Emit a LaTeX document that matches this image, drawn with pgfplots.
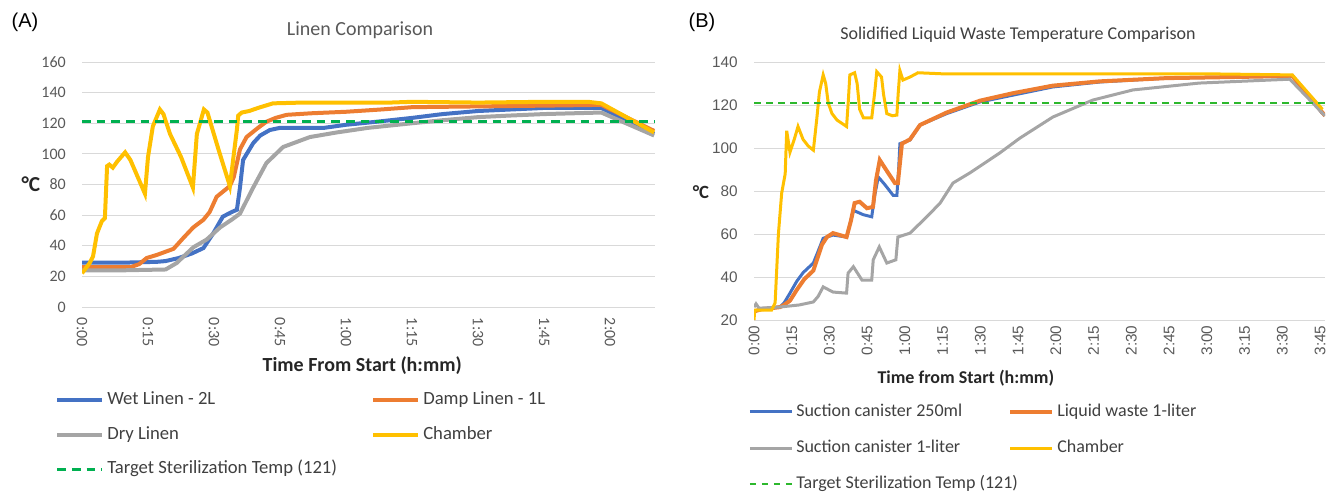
\documentclass[border=0pt]{standalone}
\usepackage{fontspec}
\setmainfont{Carlito}
\newfontfamily\arialf{Liberation Sans}
\usepackage{pgfplots}
\pgfplotsset{compat=1.18}

\definecolor{exblue}{HTML}{4472C4}
\definecolor{exorange}{HTML}{ED7D31}
\definecolor{exgray}{HTML}{A5A5A5}
\definecolor{exyellow}{HTML}{FFC000}
\definecolor{exgreen}{HTML}{00B050}
\definecolor{exgreenB}{HTML}{2DB82D}
\definecolor{gridgray}{HTML}{D9D9D9}
\definecolor{tickgray}{HTML}{595959}
\definecolor{leggray}{HTML}{404040}

\pgfplotsset{
  excel/.style={
    scale only axis,
    axis line style={draw=none},
    tick style={draw=none},
    ymajorgrids,
    major grid style={draw=gridgray, line width=0.75pt},
    xmin=0,
    /pgf/number format/assume math mode=true,
    yticklabel style={inner sep=0pt, text=tickgray},
    xticklabel style={inner sep=0pt, text=tickgray},
    yticklabel shift=12pt,
    legend columns=2,
    legend cell align=left,
    legend image code/.code={\draw[##1] (0pt,0pt) -- (31.5pt,0pt);},
  },
}

\begin{document}
\begin{tikzpicture}[x=0.75pt,y=-0.75pt]
\path[use as bounding box] (0,0) rectangle (1336,492);

% headings
\node[font=\arialf\fontsize{15}{18}\selectfont, anchor=west] at (7,22) {(A)};
\node[font=\fontsize{15}{18}\selectfont, text=tickgray] at (360,30) {Linen Comparison};
\node[font=\arialf\fontsize{15}{18}\selectfont, anchor=west] at (684,22) {(B)};
\node[font=\fontsize{13.5}{16}\selectfont, text=leggray] at (1018,35) {Solidified Liquid Waste Temperature Comparison};

%% (A) Linen comparison
\begin{axis}[excel,
  at={(61.5pt,-230.25pt)}, anchor=south west,
  width=429.75pt, height=183.75pt,
  xmax=130.2, ymin=0, ymax=160,
  ytick={0,20,...,160},
  xtick={0,15,...,120},
  xticklabels={0:00,0:15,0:30,0:45,1:00,1:15,1:30,1:45,2:00},
  xticklabel style={rotate=-90, anchor=west},
  xticklabel shift=8pt,
  ticklabel style={font=\fontsize{12}{14}\selectfont},
  xlabel={\textbf{Time From Start (h:mm)}},
  ylabel={\textbf{°C}},
  every axis x label/.style={at={(axis description cs:0.489,-0.238)}, anchor=center, font=\fontsize{15}{18}\selectfont, text=black!85},
  every axis y label/.style={at={(axis description cs:-0.089,0.5)}, anchor=center, font=\fontsize{16}{18}\selectfont, text=black!85},
  legend style={at={(axis description cs:-0.0471,-0.343)}, anchor=north west,
    draw=none, fill=none, inner sep=0pt, row sep=13pt, column sep=0pt,
    font=\fontsize{14}{16}\selectfont, text=leggray,
    nodes={inner sep=0pt, text height=10pt, text depth=3pt},
    /tikz/every odd column/.append style={column sep=2.25pt}},
  legend image code/.code={\draw[#1] (0pt,0pt) -- (33.75pt,0pt);},
]
%% Wet Linen - 2L
\addplot[exblue, line width=3pt] coordinates {
  (0,29) (10,29) (17,29.5) (19,30) (22,32) (25,35) (27.6,38.5) (29.8,48)
  (32,59) (34,62) (35.2,63.5) (35.9,78) (36.6,96) (38.9,107) (40.5,112)
  (42.7,115.6) (45,117) (55,117) (60,119) (67,121) (75,123.5) (82,126)
  (90,128) (105,130) (118,130) (130,113)
};
\addlegendentry{\makebox[198pt][l]{Wet Linen - 2L}}
%% Damp Linen - 1L
\addplot[exorange, line width=3pt] coordinates {
  (0,26) (5,26) (11,26) (13,28) (14.7,32) (17,34) (20.8,38) (23,45) (25.3,52)
  (27.6,57) (29,62) (30.6,72) (33.6,79) (34.5,85) (35.9,103) (37.4,111)
  (40,117) (41.9,121) (44,123.5) (46.5,125.5) (52,126.5) (60,127.5) (68,129)
  (75,130.5) (90,131) (105,131.5) (118,132) (130,115)
};
\addlegendentry{Damp Linen - 1L}
%% Dry Linen
\addplot[exgray, line width=3pt] coordinates {
  (0,24) (10,24) (19,24.5) (21.5,28.7) (25.3,39) (28.3,44) (31.4,52) (34,57)
  (35.9,61) (38.9,78) (41.9,94) (45.7,104.5) (51.8,111) (57.9,114) (65,117)
  (75,120) (82,122) (90,124) (97,125) (105,126) (118,127) (130,112)
};
\addlegendentry{\makebox[198pt][l]{Dry Linen}}
%% Chamber
\addplot[exyellow, line width=3pt] coordinates {
  (0,22) (1.8,29) (2.5,33) (3.4,48) (4.5,56) (5.2,58) (5.7,92) (6.2,93) (7,91)
  (8,95) (9.8,101) (11,96) (14.3,74) (15,98) (16.1,118) (17.7,129) (18.5,126)
  (20,113) (22.5,98) (25.2,78) (26.1,113) (27.7,129) (28.5,127) (31,103)
  (33.6,79) (35.2,116) (35.5,125) (36.3,127) (38,128) (40,130) (43.4,133)
  (50,133.5) (60,133.5) (70,133.5) (75,134) (90,133.5) (105,134) (115,134)
  (118,133) (130,114)
};
\addlegendentry{Chamber}
%% Target sterilization temperature
\addplot[exgreen, line width=2pt, dash pattern=on 6.5pt off 4.5pt] coordinates {
  (0,121) (130.2,121)
};
\addlegendentry{\makebox[198pt][l]{Target Sterilization Temp (121)}}
\end{axis}

%% (B) Solidified liquid waste
\begin{axis}[excel,
  at={(565.5pt,-240pt)}, anchor=south west,
  width=428.25pt, height=193.5pt,
  xmax=227, ymin=20, ymax=140,
  ytick={20,40,...,140},
  xtick={0,15,...,225},
  xticklabels={0:00,0:15,0:30,0:45,1:00,1:15,1:30,1:45,2:00,2:15,2:30,2:45,3:00,3:15,3:30,3:45},
  xticklabel style={rotate=90, anchor=east},
  xticklabel shift=4pt,
  ticklabel style={font=\arialf\fontsize{11.5}{14}\selectfont},
  xlabel={\textbf{Time from Start (h:mm)}},
  ylabel={\textbf{°C}},
  every axis x label/.style={at={(axis description cs:0.371,-0.225)}, anchor=center, font=\fontsize{13.5}{16}\selectfont, text=black!85},
  every axis y label/.style={at={(axis description cs:-0.093,0.496)}, anchor=center, font=\fontsize{14}{16}\selectfont, text=black!85},
  legend style={at={(axis description cs:-0.0105,-0.322)}, anchor=north west,
    draw=none, fill=none, inner sep=0pt, row sep=14.75pt, column sep=0pt,
    font=\fontsize{13.5}{16}\selectfont, text=leggray,
    nodes={inner sep=0pt, text height=9.5pt, text depth=3pt},
    /tikz/every odd column/.append style={column sep=2.25pt}},
]
%% Suction canister 250ml
\addplot[exblue, line width=2.25pt] coordinates {
  (0,24) (3,25) (10.3,26) (12,28) (14.3,32.5) (17,38) (19.5,42) (23.6,46.5)
  (25.5,52) (27.5,58) (31.4,59.5) (36.8,58.6) (38,64) (39.5,71) (43.4,69)
  (46.8,68) (48,78) (49.4,86.5) (52,83) (55.3,78) (56.8,78) (57.5,90) (58,102)
  (62,103.7) (66,110.7) (76.6,116) (89.8,121.4) (103,124.6) (118.8,128.4)
  (137.5,130.7) (164,132.5) (190,133) (214,133.5) (226,116)
};
\addlegendentry{\makebox[159pt][l]{Suction canister 250ml}}
%% Liquid waste 1-liter
\addplot[exorange, line width=3pt] coordinates {
  (0,24) (3,25) (10.3,26) (12,27) (14.3,29) (17,34) (20,39) (23.6,43) (25,48)
  (27,55) (29,58.6) (31.4,60.4) (36.8,58.6) (38.5,66) (40,74.4) (42,75)
  (44.9,72) (47.3,72.6) (48.5,85) (50,94.4) (53,89) (56,83.7) (57.2,83.7)
  (58.8,102) (62,104) (66,110.7) (76.6,116.5) (89.8,122) (103,125.5)
  (118.8,129) (137.5,131) (164,132.5) (190,133) (214,133.5) (227,115)
};
\addlegendentry{Liquid waste 1-liter}
%% Suction canister 1-liter
\addplot[exgray, line width=2.25pt] coordinates {
  (0,26) (0.8,27.5) (2,25.5) (10,26) (18,27) (23.6,28.4) (25.5,31) (27.5,35.4)
  (31.4,33) (36.8,32.5) (37.4,41.8) (39.5,44.8) (42.9,38.6) (46.8,38.6)
  (47.4,48) (49.8,54) (52.8,46.5) (56.4,48) (57.2,58.6) (62,60.4) (68.7,68)
  (74,74.4) (79.1,83.7) (85.8,88.4) (97.7,97.7) (105.7,104.6) (118.8,114.4)
  (134.7,122.3) (150.6,127) (177,130.2) (213,132) (227,115)
};
\addlegendentry{\makebox[159pt][l]{Suction canister 1-liter}}
%% Chamber
\addplot[exyellow, line width=2.25pt] coordinates {
  (0,20) (0.3,24.6) (7,24.6) (8.4,28) (9.7,60) (11,79) (12.4,88) (13,108)
  (14.3,98) (16,104) (17.5,110) (19.5,104) (21.5,101) (23.6,99) (25,114)
  (26,126) (27.5,134) (28.5,130) (29.5,121) (31,116) (33,113) (36.8,110)
  (37.5,122) (38.1,134) (40,135) (41,130) (42,118) (43.5,114) (46.8,114)
  (48,126) (48.8,135.5) (50.7,133) (51.5,125) (52.8,116) (55,115) (56.8,115.3)
  (57.3,125) (58,136) (59.2,131.6) (62,133) (65.2,135) (75,134.5) (100,134.5)
  (150,134.5) (180,134.5) (214,134) (226,118)
};
\addlegendentry{Chamber}
%% Target sterilization temperature
\addplot[exgreenB, line width=1.5pt, dash pattern=on 5pt off 4pt] coordinates {
  (0,121) (227,121)
};
\addlegendentry{\makebox[159pt][l]{Target Sterilization Temp (121)}}
\end{axis}
\end{tikzpicture}
\end{document}
